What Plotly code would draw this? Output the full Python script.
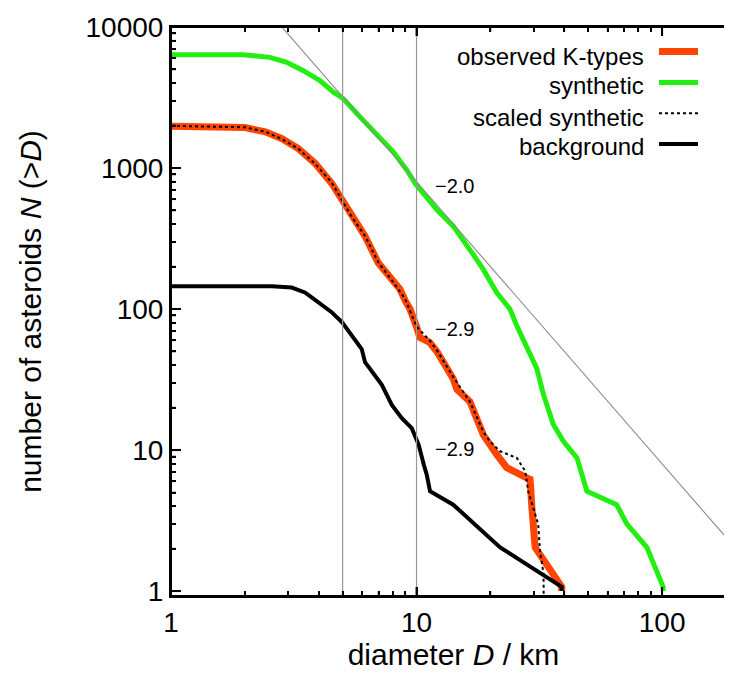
import math
import plotly.graph_objects as go

# ---------------- data ----------------
obs_D = [1.0, 2.0, 2.42, 2.82, 3.30, 3.86, 4.51, 4.96, 5.45, 6.17, 6.98, 7.93, 8.57, 8.98,
         9.4, 10.0, 10.3, 11.3, 12.1, 14.1, 14.6, 16.5, 18.7, 21.2, 23.3, 28.1, 29.0, 29.5,
         30.4, 39.0, 39.0]
obs_N = [1980, 1935, 1805, 1620, 1375, 1080, 780, 596, 455, 329, 213, 163, 138, 115,
         100, 75, 63, 58, 50, 32, 27, 22, 12.8, 9.3, 7.5, 6.35, 6.2, 3.9,
         2.04, 1.07, 1.0]

syn_D = [1.0, 1.97, 2.53, 2.96, 3.46, 4.04, 4.59, 5.03, 5.89, 6.88, 8.04, 9.12, 9.86, 12.1,
         14.1, 16.8, 18.7, 21.2, 24.0, 25.6, 28.1, 30.9, 32.9, 36.1, 39.7, 45.0, 49.4, 65.3,
         71.8, 86.7, 101.0, 101.0]
syn_N = [6350, 6350, 6090, 5615, 4900, 4170, 3450, 3100, 2300, 1755, 1304, 968, 780, 506,
         387, 251, 191, 131, 100, 76, 55, 37.8, 24.6, 15.1, 11.5, 8.8, 5.1, 4.1,
         3.0, 2.04, 1.07, 1.0]

scl_D = [1.0, 2.0, 2.42, 2.82, 3.30, 3.86, 4.51, 4.96, 5.45, 6.17, 6.98, 7.93, 8.98, 10.0,
         11.3, 12.1, 14.1, 16.5, 18.7, 19.9, 21.9, 25.6, 27.7, 28.5, 29.9, 31.3, 31.8, 32.9, 33.0]
scl_N = [1990, 1945, 1810, 1610, 1370, 1075, 790, 600, 450, 330, 215, 160, 118, 75,
         60, 51, 33, 22, 13.5, 11.5, 9.8, 8.8, 7.1, 5.1, 3.9, 2.98, 1.93, 1.33, 0.5]

bkg_D = [1.0, 2.57, 3.10, 3.51, 3.74, 3.98, 4.51, 4.96, 5.45, 5.98, 6.17, 6.57, 7.22, 7.93,
         8.71, 9.56, 10.2, 10.7, 11.0, 11.35, 14.1, 21.9, 39.0, 39.0]
bkg_N = [145, 145, 142, 131, 121, 111, 95, 81, 65, 52, 42, 36, 29, 20.9,
         16.8, 14.3, 10.9, 7.9, 6.7, 5.1, 4.1, 2.04, 1.07, 1.0]

# power-law reference line (slope -2.0)
pl_D = [2.5, 220.0]
pl_N = [12800, 1.65]

# vertical marker lines
vline_D = [5, 10]

# slope labels
slope_text = ["\u22122.0", "\u22122.9", "\u22122.9"]
slope_D = [11.7, 11.7, 11.7]
slope_N = [745, 72, 10.1]

series_names = ["observed K-types", "synthetic", "scaled synthetic", "background"]

x_tickvals = [1, 10, 100]
x_ticktext = ["1", "10", "100"]
x_minorvals = [2, 3, 4, 5, 6, 7, 8, 9, 20, 30, 40, 50, 60, 70, 80, 90, 200]
y_tickvals = [1, 10, 100, 1000, 10000]
y_ticktext = ["1", "10", "100", "1000", "10000"]
y_minorvals = [2, 3, 4, 5, 6, 7, 8, 9,
               20, 30, 40, 50, 60, 70, 80, 90,
               200, 300, 400, 500, 600, 700, 800, 900,
               2000, 3000, 4000, 5000, 6000, 7000, 8000, 9000]

# ---------------- styling ----------------
FONT = "Liberation Sans, Arial, Helvetica, sans-serif"
C_OBS = "#ff4500"
C_SYN = "#22ee11"
C_BKG = "#000000"
PLOT_W = 565.0   # plot area size in px (for tick lengths in paper units)
PLOT_H = 572.7

fig = go.Figure()

for xv in vline_D:
    fig.add_trace(go.Scatter(x=[xv, xv], y=[0.5, 20000], mode="lines",
                             xaxis="x2", yaxis="y3",
                             line=dict(color="#999999", width=1.2),
                             hoverinfo="skip", showlegend=False))

fig.add_trace(go.Scatter(x=pl_D, y=pl_N, mode="lines", yaxis="y2",
                         line=dict(color="#8a8a8a", width=1.1),
                         hoverinfo="skip", showlegend=False))

fig.add_trace(go.Scatter(x=syn_D, y=syn_N, mode="lines", name=series_names[1],
                         line=dict(color=C_SYN, width=5), showlegend=False))
fig.add_trace(go.Scatter(x=obs_D, y=obs_N, mode="lines", name=series_names[0],
                         line=dict(color=C_OBS, width=7), showlegend=False))
fig.add_trace(go.Scatter(x=scl_D, y=scl_N, mode="lines", name=series_names[2],
                         line=dict(color="#000000", width=2, dash="dot"), showlegend=False))
fig.add_trace(go.Scatter(x=bkg_D, y=bkg_N, mode="lines", name=series_names[3],
                         line=dict(color=C_BKG, width=4), showlegend=False))

for t, d, n in zip(slope_text, slope_D, slope_N):
    fig.add_annotation(x=math.log10(d), y=math.log10(n), text=t, showarrow=False,
                       xanchor="left", yanchor="middle",
                       font=dict(family=FONT, size=20, color="black"))

# manual legend: right-aligned text, sample line to the right
leg_text_y = [0.9481, 0.8975, 0.8416, 0.7892]
leg_line_y = [0.9568, 0.9026, 0.8485, 0.7944]
leg_styles = [dict(color=C_OBS, width=7), dict(color=C_SYN, width=5),
              dict(color="#000000", width=2, dash="dot"), dict(color=C_BKG, width=4)]
for name, ty, ly, st in zip(series_names, leg_text_y, leg_line_y, leg_styles):
    fig.add_annotation(x=0.8407, y=ty, xref="paper", yref="paper", text=name,
                       showarrow=False, xanchor="right", yanchor="middle",
                       font=dict(family=FONT, size=24, color="black"))
    fig.add_shape(type="line", xref="paper", yref="paper", x0=0.8637, x1=0.9327,
                  y0=ly, y1=ly, line=st)

# frame (drawn explicitly so it always shows)
frame = dict(color="black", width=2)
for (x0, y0, x1, y1) in [(0, 0, 1, 0), (0, 1, 1, 1), (0, 0, 0, 1), (1, 0, 1, 1)]:
    fig.add_shape(type="line", xref="paper", yref="paper", x0=x0, y0=y0, x1=x1, y1=y1,
                  line=frame, layer="above")

# tick marks, inside, on all four sides
def xticks(vals, length, width):
    h = length / PLOT_H
    for v in vals:
        for (a, b) in [(0, h), (1, 1 - h)]:
            fig.add_shape(type="line", xref="x", yref="paper", x0=v, x1=v, y0=a, y1=b,
                          line=dict(color="black", width=width), layer="above")

def yticks(vals, length, width):
    w = length / PLOT_W
    for v in vals:
        for (a, b) in [(0, w), (1, 1 - w)]:
            fig.add_shape(type="line", xref="paper", yref="y", x0=a, x1=b, y0=v, y1=v,
                          line=dict(color="black", width=width), layer="above")

xticks(x_tickvals, 9, 2)
xticks(x_minorvals, 5, 1.5)
yticks(y_tickvals, 10, 2)
yticks(y_minorvals, 5, 1.5)

XR = [0, 2.301]
YR = [-0.035, 4.0]

common = dict(type="log", showgrid=False, zeroline=False, tickcolor="black",
              ticks="inside", ticklabeloverflow="allow")

fig.update_layout(
    width=732, height=686,
    margin=dict(l=163, r=4, t=15, b=98),
    paper_bgcolor="white", plot_bgcolor="white",
    font=dict(family=FONT, size=28, color="black"),
    showlegend=False,
    xaxis=dict(range=XR, tickvals=x_tickvals, ticktext=x_ticktext,
               showline=True, linecolor="black", linewidth=2, mirror="ticks",
               ticklen=9, tickwidth=2,
               title=dict(text="diameter <i>D</i> / km", font=dict(size=30), standoff=5),
               **common),
    xaxis2=dict(range=XR, overlaying="x", anchor="y", side="bottom",
                tickvals=x_minorvals, showticklabels=False, showline=False,
                mirror="ticks", ticklen=5, tickwidth=1.5, **common),
    yaxis=dict(range=YR, tickvals=y_tickvals, ticktext=y_ticktext,
               ticksuffix="\u00a0\u00a0",
               showline=True, linecolor="black", linewidth=2, mirror=False,
               ticklen=10, tickwidth=2,
               title=dict(text="number of asteroids <i>N</i> (&gt;<i>D</i>)",
                          font=dict(size=30), standoff=35),
               **common),
    yaxis2=dict(range=YR, overlaying="y", side="right", tickvals=y_tickvals,
                showticklabels=False, showline=True, linecolor="black", linewidth=2,
                ticklen=10, tickwidth=2, **common),
    yaxis3=dict(range=YR, overlaying="y", side="left", anchor="x", tickvals=y_minorvals,
                showticklabels=False, showline=False, mirror="ticks",
                ticklen=5, tickwidth=1.5, **common),
)

fig.write_html("out.html")
